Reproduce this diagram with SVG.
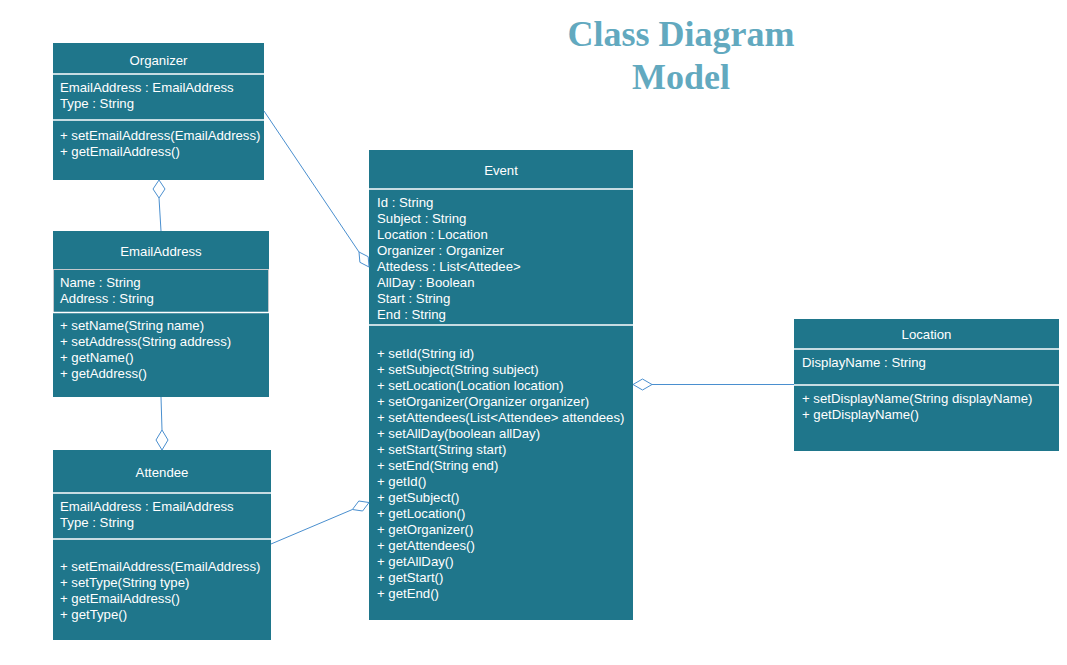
<svg xmlns="http://www.w3.org/2000/svg" width="1067" height="665" viewBox="0 0 1067 665">
<style>
.box{fill:#1f768b}
.div{stroke:#ffffff;stroke-width:1.5}
.t{font-family:"Liberation Sans",Arial,sans-serif;font-size:13.2px;fill:#ffffff}
.c{text-anchor:middle}
.con{stroke:#4a8fcf;stroke-width:1;fill:none}
.dia{stroke:#4a8fcf;stroke-width:1;fill:#ffffff}
.title{font-family:"Liberation Serif","Times New Roman",serif;font-size:36px;font-weight:bold;fill:#62a9bf;text-anchor:middle}
</style>
<rect width="1067" height="665" fill="#ffffff"/>
<g id="title">
<text class="title" x="681" y="46">Class Diagram</text>
<text class="title" x="681" y="89">Model</text>
</g>
<g id="organizer">
<rect class="box" x="53" y="43" width="211" height="137"/>
<line class="div" x1="53" y1="74" x2="264" y2="74"/>
<line class="div" x1="53" y1="120" x2="264" y2="120"/>
<text class="t c" x="158.5" y="65">Organizer</text>
<text class="t" x="60" y="92">EmailAddress : EmailAddress</text>
<text class="t" x="60" y="108">Type : String</text>
<text class="t" x="60" y="140">+ setEmailAddress(EmailAddress)</text>
<text class="t" x="60" y="156">+ getEmailAddress()</text>
</g>
<g id="emailaddress">
<rect class="box" x="53" y="231" width="216" height="166"/>
<rect x="53.5" y="269.5" width="215" height="43" fill="none" stroke="#c4c8cc" stroke-width="1"/>
<line class="div" x1="53" y1="312.5" x2="269" y2="312.5"/>
<text class="t c" x="161" y="256">EmailAddress</text>
<text class="t" x="60" y="287">Name : String</text>
<text class="t" x="60" y="303">Address : String</text>
<text class="t" x="60" y="330">+ setName(String name)</text>
<text class="t" x="60" y="346">+ setAddress(String address)</text>
<text class="t" x="60" y="362">+ getName()</text>
<text class="t" x="60" y="378">+ getAddress()</text>
</g>
<g id="attendee">
<rect class="box" x="53" y="450" width="218" height="190"/>
<line class="div" x1="53" y1="493" x2="271" y2="493"/>
<line class="div" x1="53" y1="539" x2="271" y2="539"/>
<text class="t c" x="162" y="477">Attendee</text>
<text class="t" x="60" y="511">EmailAddress : EmailAddress</text>
<text class="t" x="60" y="527">Type : String</text>
<text class="t" x="60" y="571">+ setEmailAddress(EmailAddress)</text>
<text class="t" x="60" y="587">+ setType(String type)</text>
<text class="t" x="60" y="603">+ getEmailAddress()</text>
<text class="t" x="60" y="619">+ getType()</text>
</g>
<g id="event">
<rect class="box" x="369" y="150" width="264" height="470"/>
<line class="div" x1="369" y1="189" x2="633" y2="189"/>
<line class="div" x1="369" y1="325" x2="633" y2="325"/>
<text class="t c" x="501" y="175">Event</text>
<text class="t" x="377" y="207">Id : String</text>
<text class="t" x="377" y="223">Subject : String</text>
<text class="t" x="377" y="239">Location : Location</text>
<text class="t" x="377" y="255">Organizer : Organizer</text>
<text class="t" x="377" y="271">Attedess : List&lt;Attedee&gt;</text>
<text class="t" x="377" y="287">AllDay : Boolean</text>
<text class="t" x="377" y="303">Start : String</text>
<text class="t" x="377" y="319">End : String</text>
<text class="t" x="377" y="358">+ setId(String id)</text>
<text class="t" x="377" y="374">+ setSubject(String subject)</text>
<text class="t" x="377" y="390">+ setLocation(Location location)</text>
<text class="t" x="377" y="406">+ setOrganizer(Organizer organizer)</text>
<text class="t" x="377" y="422">+ setAttendees(List&lt;Attendee&gt; attendees)</text>
<text class="t" x="377" y="438">+ setAllDay(boolean allDay)</text>
<text class="t" x="377" y="454">+ setStart(String start)</text>
<text class="t" x="377" y="470">+ setEnd(String end)</text>
<text class="t" x="377" y="486">+ getId()</text>
<text class="t" x="377" y="502">+ getSubject()</text>
<text class="t" x="377" y="518">+ getLocation()</text>
<text class="t" x="377" y="534">+ getOrganizer()</text>
<text class="t" x="377" y="550">+ getAttendees()</text>
<text class="t" x="377" y="566">+ getAllDay()</text>
<text class="t" x="377" y="582">+ getStart()</text>
<text class="t" x="377" y="598">+ getEnd()</text>
</g>
<g id="location">
<rect class="box" x="794" y="319" width="265" height="132"/>
<line class="div" x1="794" y1="349" x2="1059" y2="349"/>
<line class="div" x1="794" y1="385" x2="1059" y2="385"/>
<text class="t c" x="926.5" y="339">Location</text>
<text class="t" x="802" y="367">DisplayName : String</text>
<text class="t" x="802" y="403">+ setDisplayName(String displayName)</text>
<text class="t" x="802" y="419">+ getDisplayName()</text>
</g>
<g id="connectors">
<line class="con" x1="159" y1="198" x2="161" y2="231"/>
<polygon class="dia" points="159,180 165,189 159,198 153,189"/>
<line class="con" x1="161" y1="397" x2="162" y2="430"/>
<polygon class="dia" points="162,450 156,440 162,430 168,440"/>
<line class="con" x1="264" y1="111" x2="359" y2="252"/>
<polygon class="dia" points="369,267 359.9,262.3 359,252 368.2,256.7"/>
<line class="con" x1="271" y1="544" x2="352.4" y2="509.5"/>
<polygon class="dia" points="369,502.5 362.6,511 352.4,509.5 358.8,501"/>
<line class="con" x1="652" y1="384.5" x2="794" y2="384.5"/>
<polygon class="dia" points="633,384.5 642.5,379 652,384.5 642.5,390"/>
</g>
</svg>
